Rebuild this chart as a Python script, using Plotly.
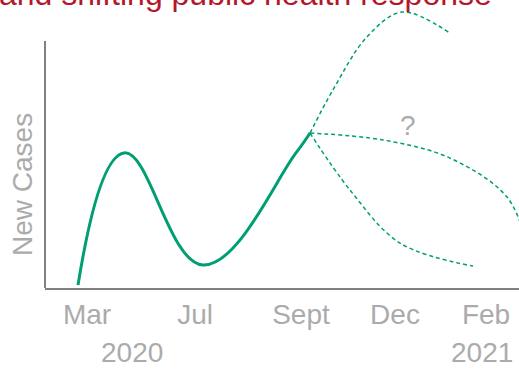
import plotly.graph_objects as go

# ---- data (arbitrary units) ----
obs_x = [6.96, 16.67, 33.33, 52.95, 55.91]
obs_y = [1.0, 46.9, 8.0, 46.9, 53.8]

up_x = [55.91, 60.76, 67.93, 75.32, 85.44]
up_y = [53.8, 68.8, 87.2, 95.8, 88.5]

mid_x = [55.91, 71.31, 85.44, 97.47, 101.5]
mid_y = [53.8, 51.4, 45.1, 31.6, 16.0]

low_x = [55.91, 64.35, 74.89, 90.30]
low_y = [53.8, 34.0, 15.6, 7.6]

month_pos = [8.86, 31.65, 54.0, 73.84, 93.04]
month_labels = ["Mar", "Jul", "Sept", "Dec", "Feb"]
year_pos = [18.35, 92.2]
year_labels = ["2020", "2021"]

GREEN = "#009E73"
GREY = "#ababab"
FONT = "Liberation Sans, Arial, sans-serif"

fig = go.Figure()
fig.add_trace(go.Scatter(x=obs_x, y=obs_y, mode="lines",
                         line=dict(color=GREEN, width=3, shape="spline", smoothing=1.2),
                         showlegend=False, hoverinfo="skip"))
for xs, ys in [(up_x, up_y), (mid_x, mid_y), (low_x, low_y)]:
    fig.add_trace(go.Scatter(x=xs, y=ys, mode="lines",
                             line=dict(color=GREEN, width=1.5, shape="spline", smoothing=1.0,
                                       dash="4px,3px"),
                             showlegend=False, hoverinfo="skip"))

fig.update_layout(
    width=519, height=370,
    margin=dict(l=45, r=0, t=0, b=82),
    paper_bgcolor="white", plot_bgcolor="white",
    font=dict(family=FONT, size=28, color=GREY),
    xaxis=dict(range=[0, 100], showgrid=False, zeroline=False, showline=True,
               linecolor="#808080", linewidth=2, tickvals=month_pos, ticktext=month_labels,
               ticks="", tickfont=dict(size=28, color=GREY)),
    yaxis=dict(range=[0, 100], showgrid=False, zeroline=False, showline=False,
               showticklabels=False),
)

# y-axis line (shorter than plot area)
fig.add_shape(type="line", xref="paper", yref="paper", x0=0, x1=0, y0=0, y1=(288 - 41) / 288,
              line=dict(color="#808080", width=2))

for xp, t in zip(year_pos, year_labels):
    fig.add_annotation(x=xp, xref="x", y=(288 - 352) / 288, yref="paper", text=t,
                       showarrow=False, font=dict(size=28, color=GREY), xanchor="center", yanchor="middle")

fig.add_annotation(x=(22 - 45) / 474, xref="paper", y=(288 - 185) / 288, yref="paper",
                   text="New Cases", textangle=-90, showarrow=False,
                   font=dict(size=28, color=GREY), xanchor="center", yanchor="middle")

fig.add_annotation(x=76.6, xref="x", y=(288 - 125) / 2.88, yref="y", text="?", showarrow=False,
                   font=dict(size=28, color=GREY), xanchor="center", yanchor="middle")

fig.add_annotation(x=(245 - 45) / 474, xref="paper", y=(288 - 14) / 288, yref="paper",
                   text="and shifting public health response", showarrow=False,
                   font=dict(size=32, color="#b2182b"), xanchor="center", yanchor="bottom")

fig.write_html("out.html")
